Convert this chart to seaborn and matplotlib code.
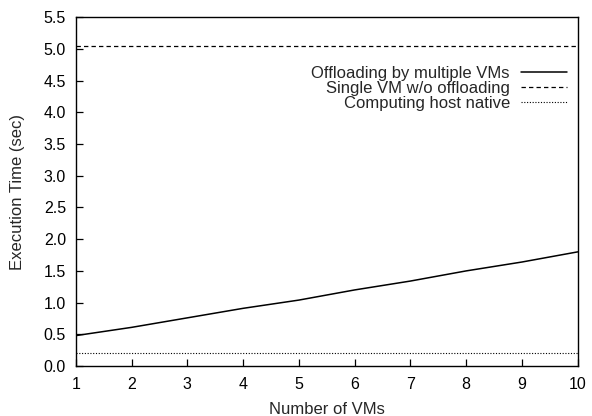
import matplotlib
matplotlib.use("Agg")
import matplotlib.pyplot as plt
import seaborn as sns
import pandas as pd

vms = [1, 2, 3, 4, 5, 6, 7, 8, 9, 10]
offloading = [0.48, 0.61, 0.76, 0.91, 1.04, 1.20, 1.34, 1.50, 1.64, 1.80]
single_vm = 5.05
host_native = 0.2

sns.set_theme(style="ticks")
plt.rcParams['font.family'] = ['Liberation Sans', 'DejaVu Sans']
plt.rcParams['font.size'] = 12

fig = plt.figure(figsize=(5.92, 4.16), dpi=100)
ax = fig.add_axes([0.128, 0.12, 0.848, 0.839])

df = pd.DataFrame({"vms": vms, "t": offloading})
sns.lineplot(data=df, x="vms", y="t", ax=ax, color="black", linewidth=1.1,
             label="Offloading by multiple VMs")
ax.axhline(single_vm, color="black", linestyle=(0, (3.5, 2.5)), linewidth=0.9,
           label="Single VM w/o offloading")
ax.axhline(host_native, color="black", linestyle=(0, (1, 1.5)), linewidth=0.8,
           label="Computing host native")

ax.set_xlim(1, 10)
ax.set_ylim(0, 5.5)
ax.set_xticks(vms)
ax.set_yticks([i * 0.5 for i in range(12)])
ax.set_yticklabels([f"{i*0.5:.1f}" for i in range(12)])
ax.tick_params(direction="in", length=5, width=0.9, labelsize=11.5, colors="black", pad=7)
ax.tick_params(axis="x", pad=8)
for s in ax.spines.values():
    s.set_linewidth(1.0)
    s.set_color("black")
ax.set_xlabel("Number of VMs", fontsize=12)
ax.xaxis.label.set_va("baseline")
ax.xaxis.set_label_coords(0.5, -0.138)
ax.set_ylabel("Execution Time (sec)", fontsize=12)
ax.yaxis.label.set_va("center")
ax.yaxis.set_label_coords(-0.117, 0.5)

leg = ax.legend(loc="upper right", bbox_to_anchor=(0.978, 0.86), frameon=False,
                markerfirst=False, fontsize=12, handlelength=2.75,
                labelspacing=0.0, handletextpad=0.66, borderaxespad=0.0,
                borderpad=0.0)
for t in leg.get_texts():
    t.set_ha("right")
leg._legend_box.align = "right"

fig.savefig("out.png", dpi=100)
